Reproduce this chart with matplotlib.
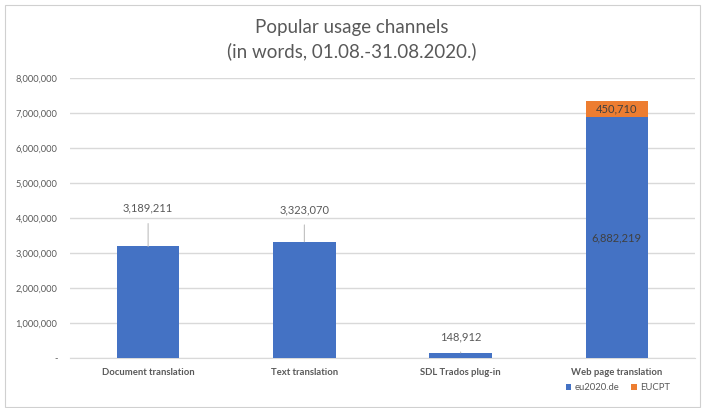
import matplotlib
matplotlib.use("Agg")
import matplotlib.pyplot as plt
from matplotlib.ticker import FuncFormatter
from matplotlib.patches import Rectangle

categories = ["Document translation", "Text translation", "SDL Trados plug-in", "Web page translation"]
eu2020 = [3189211, 3323070, 148912, 6882219]
eucpt = [0, 0, 0, 450710]
series_names = ["eu2020.de", "EUCPT"]
yticks = [0, 1000000, 2000000, 3000000, 4000000, 5000000, 6000000, 7000000, 8000000]

BLUE = "#4472C4"
ORANGE = "#ED7D31"
TXT = "#595959"
GRID = "#D9D9D9"
plt.rcParams['font.family'] = ['Lato', 'DejaVu Sans']

fig = plt.figure(figsize=(7.03, 4.08), dpi=100)
fig.patches.append(Rectangle((5/703, 1/408), 695/703, 402/408, transform=fig.transFigure,
                             fill=False, edgecolor="#D0D0D0", linewidth=0.8))
ax = fig.add_axes([70/703, 1-358/408, 625/703, 280/408])

x = list(range(len(categories)))
width = 0.4
b1 = ax.bar(x, eu2020, width, color=BLUE, label=series_names[0], zorder=3)
b2 = ax.bar(x, eucpt, width, bottom=eu2020, color=ORANGE, label=series_names[1], zorder=3)

ax.set_xlim(-0.5, len(categories) - 0.5)
ax.set_ylim(0, 8000000)
ax.set_yticks(yticks)
ax.yaxis.set_major_formatter(FuncFormatter(lambda v, p: "-" if v == 0 else f"{int(v):,}"))
ax.grid(axis="y", color=GRID, linewidth=1, zorder=0)
ax.set_axisbelow(True)
for s in ["top", "right", "left"]:
    ax.spines[s].set_visible(False)
ax.spines["bottom"].set_color(GRID)
ax.tick_params(axis="y", length=0, labelsize=6.7, colors=TXT, pad=9)
ax.tick_params(axis="x", length=0, labelsize=6.8, colors=TXT, pad=7)
ax.set_xticks(x)
ax.set_xticklabels(categories, fontweight="bold")

# leader-line labels for the single-segment bars
offsets = [38, 32, 16, None]
for i, (v, off) in enumerate(zip(eu2020, offsets)):
    if off is None:
        continue
    ax.annotate(f"{v:,}", xy=(i, v), xytext=(0, off), textcoords="offset pixels",
                ha="center", va="center", fontsize=8, color=TXT,
                arrowprops=dict(arrowstyle="-", color="#BFBFBF", lw=0.8,
                                shrinkA=5, shrinkB=0))

# inside labels for the stacked bar
i = 3
ax.text(i, eu2020[i] / 2, f"{eu2020[i]:,}", ha="center", va="center", fontsize=8, color="#404040")
ax.text(i, eu2020[i] + eucpt[i] / 2, f"{eucpt[i]:,}", ha="center", va="center", fontsize=8, color="#404040")

fig.text(0.5, 1 - 27/408, "Popular usage channels", ha="center", va="center", fontsize=13.5, color=TXT)
fig.text(0.5, 1 - 51/408, "(in words, 01.08.-31.08.2020.)", ha="center", va="center", fontsize=13.5, color=TXT)

fig.legend(handles=[b1, b2], labels=series_names, loc="center", bbox_to_anchor=(618/703, 1 - 388/408),
           ncol=2, frameon=False, fontsize=6.8, labelcolor=TXT, handlelength=0.6, handleheight=0.6,
           handletextpad=0.4, columnspacing=1.2)

fig.savefig("out.png", dpi=100)
